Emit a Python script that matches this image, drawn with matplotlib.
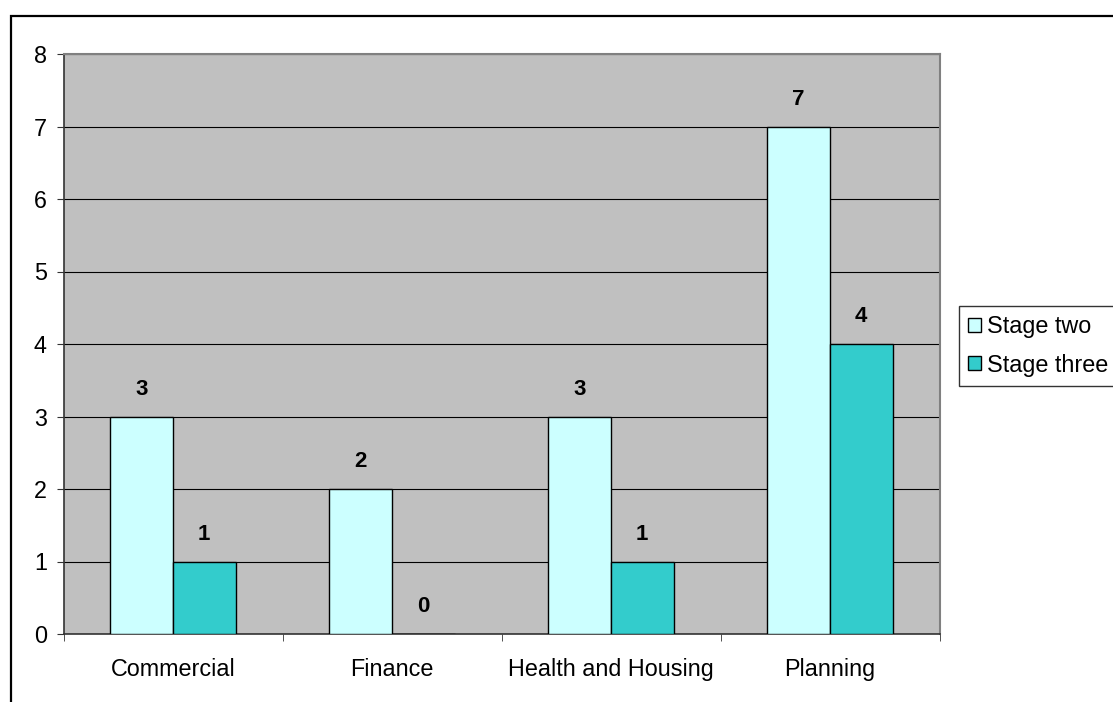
import matplotlib

matplotlib.use("Agg")
import matplotlib.pyplot as plt
import numpy as np
from matplotlib.patches import Rectangle

categories = ["Commercial", "Finance", "Health and Housing", "Planning"]
stage_two = [3, 2, 3, 7]
stage_three = [1, 0, 1, 4]
series_names = ["Stage two", "Stage three"]

plt.rcParams["font.family"] = ["Liberation Sans", "DejaVu Sans"]
FS = 16.8

fig = plt.figure(figsize=(11.13, 7.02), dpi=100)
ax = fig.add_axes([63.5 / 1113, 68 / 702, 876 / 1113, 580 / 702])

# outer chart border running off the right and bottom edges
fig.patches.append(Rectangle((10.5 / 1113, -0.1), 1.2, (702 - 15.5) / 702 + 0.1,
                             transform=fig.transFigure, fill=False,
                             edgecolor="black", linewidth=1.6, clip_on=False))

ax.set_facecolor("#C0C0C0")
x = np.arange(len(categories))
w = 1 / 3.5
b1 = ax.bar(x - w / 2, stage_two, w, color="#CCFFFF", edgecolor="black",
            linewidth=1.0, label=series_names[0], zorder=3)
b2 = ax.bar(x + w / 2, stage_three, w, color="#33CCCC", edgecolor="black",
            linewidth=1.0, label=series_names[1], zorder=3)

for bars, vals in ((b1, stage_two), (b2, stage_three)):
    for rect, v in zip(bars, vals):
        ax.annotate(str(v), (rect.get_x() + rect.get_width() / 2, v),
                    xytext=(0, 19.5), textcoords="offset points",
                    ha="center", va="center", fontsize=16, fontweight="bold")

ax.set_xlim(-0.5, len(categories) - 0.5)
ax.set_ylim(0, 8)
ax.set_yticks(range(0, 9))
ax.yaxis.grid(True, color="black", linewidth=0.8, zorder=1)
ax.set_axisbelow(True)

ax.set_xticks(x)
ax.set_xticklabels(categories, fontsize=FS)
ax.tick_params(axis="x", length=0, pad=17)
ax.set_xticks(np.arange(-0.5, len(categories)), minor=True)
ax.tick_params(axis="x", which="minor", length=5, direction="out", color="#333333")
ax.tick_params(axis="y", length=5, direction="out", labelsize=FS, pad=7,
               color="#333333")

for side in ("top", "right"):
    ax.spines[side].set_color("#808080")
    ax.spines[side].set_linewidth(1.5)
for side in ("left", "bottom"):
    ax.spines[side].set_color("#333333")
    ax.spines[side].set_linewidth(1.2)

leg = fig.legend(handles=[b1, b2], loc="upper left",
                 bbox_to_anchor=(959 / 1113, (702 - 306) / 702),
                 fontsize=FS, frameon=True, fancybox=False, edgecolor="black",
                 handlelength=0.55, handleheight=0.55, handletextpad=0.25,
                 borderpad=0.4, labelspacing=0.65, borderaxespad=0)
leg.get_frame().set_linewidth(1.0)

fig.savefig("out.png", dpi=100)
plt.close(fig)
